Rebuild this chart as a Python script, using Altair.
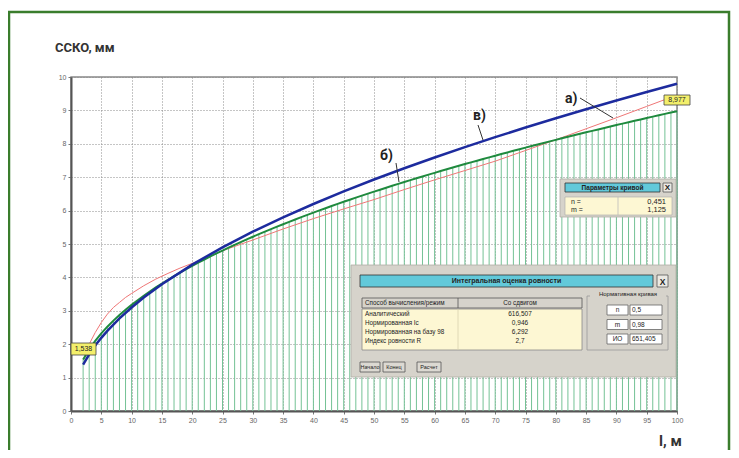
import altair as alt
import pandas as pd

# ---------------- data ----------------
bar_l = list(range(2, 101))  # measurement positions, l (m)
green_vals = [1.538, 1.846, 2.102, 2.325, 2.524, 2.706, 2.874, 3.030, 3.178,
              3.318, 3.450, 3.577, 3.699, 3.816, 3.928, 4.037, 4.143, 4.245, 4.344,
              4.441, 4.535, 4.627, 4.717, 4.804, 4.890, 4.974, 5.056, 5.137, 5.216,
              5.294, 5.370, 5.445, 5.519, 5.591, 5.663, 5.733, 5.803, 5.871, 5.939,
              6.005, 6.071, 6.136, 6.200, 6.263, 6.325, 6.387, 6.448, 6.508, 6.567,
              6.626, 6.685, 6.742, 6.799, 6.856, 6.912, 6.967, 7.022, 7.077, 7.130,
              7.184, 7.236, 7.289, 7.341, 7.393, 7.444, 7.494, 7.544, 7.594, 7.644,
              7.693, 7.742, 7.790, 7.837, 7.885, 7.932, 7.980, 8.026, 8.072, 8.118,
              8.164, 8.209, 8.254, 8.299, 8.344, 8.387, 8.431, 8.475, 8.518, 8.561,
              8.604, 8.646, 8.688, 8.730, 8.772, 8.814, 8.855, 8.896, 8.937, 8.977]

blue_l = [2, 3, 4, 5, 6, 8, 10, 12, 15, 20, 25, 30, 35, 40, 45, 50, 55, 60, 65,
          70, 75, 80, 85, 90, 95, 100]
blue_vals = [1.386, 1.697, 1.960, 2.191, 2.400, 2.772, 3.099, 3.395, 3.796, 4.383,
             4.900, 5.368, 5.798, 6.198, 6.574, 6.930, 7.268, 7.591, 7.901, 8.199,
             8.487, 8.765, 9.035, 9.297, 9.552, 9.800]

red_l = [3, 4, 5, 6, 7, 8, 9, 10, 12, 14, 16, 18, 20, 22, 25, 30, 35, 40, 45, 50,
         55, 60, 65, 70, 75, 80, 85, 90, 95, 100]
red_vals = [2.0, 2.35, 2.65, 2.9, 3.1, 3.25, 3.4, 3.52, 3.75, 3.95, 4.12, 4.28,
            4.42, 4.55, 4.8, 5.12, 5.45, 5.76, 6.05, 6.33, 6.63, 6.92, 7.2, 7.48,
            7.8, 8.12, 8.45, 8.78, 9.12, 9.46]

x_ticks = list(range(0, 101, 5))
y_ticks = list(range(0, 11))

start_label = "1,538"
end_label = "8,977"

param_names = ["n =", "m ="]
param_values = ["0,451", "1,125"]

table_header = ["Способ вычисления/режим", "Со сдвигом"]
table_rows = ["Аналитический", "Нормированная Ic", "Нормированная на базу 98",
              "Индекс ровности R"]
table_values = ["616,507", "0,946", "6,292", "2,7"]

norm_names = ["n", "m", "ИО"]
norm_values = ["0,5", "0,98", "651,405"]

buttons = ["Начало", "Конец", "Расчет"]

# ---------------- chart ----------------
W, H = 606, 334
FONT = "Liberation Sans"
xs = alt.Scale(domain=[0, 100], nice=False, zero=False)
ys = alt.Scale(domain=[0, 10], nice=False)

axis_common = dict(labelFontSize=7, labelColor="#666", labelFont=FONT, tickSize=3,
                   tickColor="#777", domainColor="#555", domainWidth=2, grid=True,
                   gridDash=[1, 2], gridColor="#8a8a8a", gridWidth=1, title=None,
                   labelPadding=2, format="d", labelOverlap=False, labelFlush=False)
x_axis = alt.Axis(values=x_ticks, **axis_common)
y_axis = alt.Axis(values=y_ticks, **axis_common)


def X():
    return alt.X("l:Q", scale=xs, axis=x_axis)


def Y():
    return alt.Y("v:Q", scale=ys, axis=y_axis)


bars_df = pd.DataFrame({"l": bar_l, "v": green_vals, "z": [0] * len(bar_l)})
bars = alt.Chart(bars_df).mark_rule(color="#74c295", strokeWidth=1).encode(
    x=X(), y=Y(), y2="z:Q")

red = alt.Chart(pd.DataFrame({"l": red_l, "v": red_vals})).mark_line(
    color="#ef7676", strokeWidth=1).encode(x=X(), y=Y())
green = alt.Chart(pd.DataFrame({"l": bar_l, "v": green_vals})).mark_line(
    color="#1f8a3e", strokeWidth=2).encode(x=X(), y=Y())
blue = alt.Chart(pd.DataFrame({"l": blue_l, "v": blue_vals})).mark_line(
    color="#1d2b9e", strokeWidth=2.5).encode(x=X(), y=Y())

one = pd.DataFrame({"a": [0]})


def rect(x, y, x2, y2, fill, stroke=None, sw=0.8):
    kw = dict(x=x, y=y, x2=x2, y2=y2, fill=fill)
    if stroke:
        kw.update(stroke=stroke, strokeWidth=sw)
    return alt.Chart(one).mark_rect(**kw).encode(opacity=alt.value(1))


def frame(x, y, x2, y2, stroke, sw=1):
    return alt.Chart(one).mark_rect(x=x, y=y, x2=x2, y2=y2, filled=False,
                                    stroke=stroke, strokeWidth=sw).encode(opacity=alt.value(1))


def seg(x, y, x2, y2, color="#333", sw=1):
    return alt.Chart(one).mark_rule(color=color, strokeWidth=sw).encode(
        x=alt.value(x), y=alt.value(y), x2=alt.value(x2), y2=alt.value(y2))


def txt(x, y, s, size=6.5, weight="normal", align="left", color="#222",
        baseline="middle", font=FONT):
    return alt.Chart(one).mark_text(text=s, x=x, y=y, fontSize=size, fontWeight=weight,
                                    align=align, baseline=baseline, color=color, font=font)


deco = []
# outer green frame
deco.append(frame(-62, -65, 658, 430, "#3a7d2c", 2.5))
# titles
deco.append(txt(-16, -25, "ССКО, мм", size=13, weight="bold", color="#333",
                baseline="alphabetic", font="Roboto"))
deco.append(txt(588, 369, "l, м", size=15, weight="bold", color="#333",
                baseline="alphabetic", font="Roboto"))

# curve labels with leader lines
deco.append(txt(402, 43, "в)", size=14, weight="bold", baseline="alphabetic", font="Roboto"))
deco.append(seg(407, 48, 412, 63))
deco.append(txt(494, 26, "а)", size=14, weight="bold", baseline="alphabetic", font="Roboto"))
deco.append(seg(509, 21, 542, 41))
deco.append(txt(309, 83, "б)", size=14, weight="bold", baseline="alphabetic", font="Roboto"))
deco.append(seg(325, 86, 328, 105))

# yellow value tags
deco.append(rect(0, 266, 25, 278, "#f3ef6b", "#444", 0.8))
deco.append(txt(12.5, 272, start_label, size=7, align="center"))
deco.append(rect(593, 18, 619, 28, "#f3ef6b", "#444", 0.8))
deco.append(txt(606, 23, end_label, size=7, align="center"))

# panel "Параметры кривой"
deco.append(rect(489, 102, 605, 140, "#d6d3cb", "#b0ada5", 0.8))
deco.append(rect(494, 106, 589, 115, "#62c9da", "#333", 0.8))
deco.append(txt(541.5, 110.7, "Параметры кривой", size=6.5, weight="bold", align="center"))
deco.append(rect(592, 106, 601, 115, "#ebe9e3", "#555", 0.8))
deco.append(txt(596.5, 110.8, "X", size=8, weight="bold", align="center"))
deco.append(rect(494, 120, 601, 138, "#fdf7d3", "#aaa", 0.6))
deco.append(seg(547, 120, 547, 138, "#bbb", 0.8))
for i, (nm, vv) in enumerate(zip(param_names, param_values)):
    deco.append(txt(500, 125 + 8 * i, nm, size=7))
    deco.append(txt(595, 125 + 8 * i, vv, size=7.5, align="right"))

# panel "Интегральная оценка ровности"
deco.append(rect(280, 188, 605, 300, "#d6d3cb", "#b0ada5", 0.8))
deco.append(rect(289, 198, 582, 210, "#62c9da", "#333", 0.8))
deco.append(txt(435.5, 204.3, "Интегральная оценка ровности", size=7, weight="bold",
                align="center"))
deco.append(rect(586, 198, 597, 210, "#ebe9e3", "#555", 0.8))
deco.append(txt(591.5, 204.5, "X", size=8.5, weight="bold", align="center"))
# table
deco.append(rect(291, 221, 511, 231, "#d6d3cb", "#555", 0.8))
deco.append(seg(387, 221, 387, 231, "#555", 0.8))
deco.append(txt(294, 226.3, table_header[0], size=6.3))
deco.append(txt(449, 226.3, table_header[1], size=6.3, align="center"))
deco.append(rect(291, 232, 511, 273, "#fdf7d3", "#888", 0.8))
deco.append(seg(387, 232, 387, 273, "#d8d2b0", 0.8))
for i, (nm, vv) in enumerate(zip(table_rows, table_values)):
    deco.append(txt(294, 236.5 + 9 * i, nm, size=6.3))
    deco.append(txt(449, 236.5 + 9 * i, vv, size=6.5, align="center"))
# normative group
deco.append(frame(516, 219, 597, 273, "#999", 0.8))
deco.append(rect(519, 212, 595, 221, "#d6d3cb"))
deco.append(txt(557, 216.5, "Нормативная кривая", size=6, align="center"))
for i, (nm, vv) in enumerate(zip(norm_names, norm_values)):
    yy = 228 + 14.5 * i
    deco.append(rect(536, yy, 557, yy + 10, "#ffffff", "#666", 0.8))
    deco.append(txt(546.5, yy + 5.3, nm, size=6.5, align="center"))
    deco.append(rect(559, yy, 591, yy + 10, "#ffffff", "#666", 0.8))
    deco.append(txt(561, yy + 5.3, vv, size=6.5))
# buttons
for (bx, bx2), name in zip([(289, 309), (312, 334), (346, 370)], buttons):
    deco.append(rect(bx, 285, bx2, 295, "#dcd9d2", "#555", 0.8))
    deco.append(txt((bx + bx2) / 2, 290.3, name, size=5.5, align="center"))

chart = alt.layer(bars, red, green, blue, *deco).properties(
    width=W, height=H,
    padding={"left": 63, "top": 69, "right": 54, "bottom": 39},
    autosize=alt.AutoSizeParams(type="none"),
    background="white",
).configure_view(stroke="#888", strokeWidth=1.5)

chart.save("out.html", embed_options={"renderer": "svg", "actions": False})
